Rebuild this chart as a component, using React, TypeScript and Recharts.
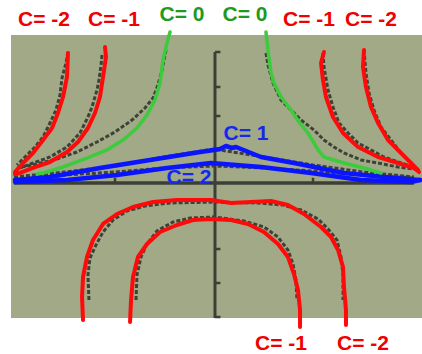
import React from 'react';
import {
  ComposedChart,
  Line,
  XAxis,
  YAxis,
  ReferenceArea,
  ReferenceLine,
  ReferenceDot,
} from 'recharts';

type Pt = { x: number; y: number };

// Plot window (graphing-calculator screen) and full chart domain, in math units
const X_DOMAIN: [number, number] = [-2.1616, 2.101];
const Y_DOMAIN: [number, number] = [-4.8857, 5.2286];
const SCREEN_X: [number, number] = [-2.0505, 2.101];
const SCREEN_Y: [number, number] = [-3.857, 4.229];

// Axis ticks on the calculator screen
const xTicks = [-1, 1];
const yTicks = [3.743, 2.743, 1.914, -1.886, -2.857, -3.829];

// Calculator plots of y = 1/(x^2 + C)
const calcLeftCm2: Pt[] = [
  { x: -1.475, y: 3.743 }, { x: -1.495, y: 3.429 }, { x: -1.535, y: 3.0 }, { x: -1.556, y: 2.514 },
  { x: -1.596, y: 2.086 }, { x: -1.657, y: 1.714 }, { x: -1.727, y: 1.314 }, { x: -1.808, y: 1.029 },
  { x: -1.909, y: 0.743 }, { x: -1.99, y: 0.514 },
];
const calcLeftCm1: Pt[] = [
  { x: -1.131, y: 3.657 }, { x: -1.141, y: 3.371 }, { x: -1.162, y: 2.943 }, { x: -1.182, y: 2.657 },
  { x: -1.232, y: 2.171 }, { x: -1.273, y: 1.886 }, { x: -1.354, y: 1.429 }, { x: -1.485, y: 1.029 },
  { x: -1.657, y: 0.743 }, { x: -1.828, y: 0.571 }, { x: -1.96, y: 0.429 },
];
const calcLeftC0: Pt[] = [
  { x: -0.485, y: 3.8 }, { x: -0.505, y: 3.514 }, { x: -0.525, y: 3.229 }, { x: -0.566, y: 2.8 },
  { x: -0.616, y: 2.429 }, { x: -0.697, y: 2.143 }, { x: -0.828, y: 1.8 }, { x: -1.0, y: 1.457 },
  { x: -1.182, y: 1.171 }, { x: -1.384, y: 0.886 }, { x: -1.586, y: 0.686 }, { x: -1.788, y: 0.543 },
  { x: -1.99, y: 0.429 },
];
const calcRightC0: Pt[] = [
  { x: 0.525, y: 3.714 }, { x: 0.545, y: 3.371 }, { x: 0.596, y: 2.857 }, { x: 0.677, y: 2.371 },
  { x: 0.778, y: 2.086 }, { x: 0.879, y: 1.8 }, { x: 1.01, y: 1.514 }, { x: 1.111, y: 1.229 },
  { x: 1.212, y: 1.029 }, { x: 1.313, y: 0.857 }, { x: 1.485, y: 0.657 }, { x: 1.657, y: 0.571 },
  { x: 1.859, y: 0.457 }, { x: 2.02, y: 0.4 },
];
const calcRightCm1: Pt[] = [
  { x: 1.101, y: 3.714 }, { x: 1.111, y: 3.314 }, { x: 1.152, y: 2.657 }, { x: 1.202, y: 2.171 },
  { x: 1.263, y: 1.714 }, { x: 1.354, y: 1.429 }, { x: 1.455, y: 1.143 }, { x: 1.586, y: 0.943 },
  { x: 1.717, y: 0.743 }, { x: 1.889, y: 0.571 }, { x: 2.02, y: 0.457 },
];
const calcRightCm2: Pt[] = [
  { x: 1.515, y: 3.8 }, { x: 1.535, y: 3.143 }, { x: 1.566, y: 2.571 }, { x: 1.616, y: 2.086 },
  { x: 1.687, y: 1.6 }, { x: 1.788, y: 1.229 }, { x: 1.889, y: 0.857 }, { x: 1.96, y: 0.657 },
  { x: 2.02, y: 0.457 },
];
const calcC1: Pt[] = [
  { x: -2.02, y: 0.171 }, { x: -1.505, y: 0.314 }, { x: -1.0, y: 0.486 }, { x: -0.505, y: 0.743 },
  { x: 0, y: 0.971 }, { x: 0.505, y: 0.743 }, { x: 1.0, y: 0.514 }, { x: 1.505, y: 0.314 },
  { x: 2.02, y: 0.171 },
];
const calcC2: Pt[] = [
  { x: -2.02, y: 0.143 }, { x: -1.0, y: 0.314 }, { x: -0.505, y: 0.429 }, { x: 0, y: 0.486 },
  { x: 0.505, y: 0.429 }, { x: 1.0, y: 0.343 }, { x: 1.505, y: 0.229 }, { x: 2.02, y: 0.143 },
];
const calcArchCm2: Pt[] = [
  { x: -1.263, y: -3.343 }, { x: -1.273, y: -2.629 }, { x: -1.253, y: -2.143 }, { x: -1.192, y: -1.771 },
  { x: -1.121, y: -1.4 }, { x: -1.02, y: -1.057 }, { x: -0.879, y: -0.8 }, { x: -0.697, y: -0.657 },
  { x: -0.444, y: -0.571 }, { x: 0, y: -0.543 }, { x: 0.444, y: -0.571 }, { x: 0.697, y: -0.629 },
  { x: 0.879, y: -0.771 }, { x: 1.051, y: -1.029 }, { x: 1.152, y: -1.314 }, { x: 1.242, y: -1.629 },
  { x: 1.283, y: -2.114 }, { x: 1.303, y: -2.629 }, { x: 1.303, y: -3.343 },
];
const calcArchCm1: Pt[] = [
  { x: -0.788, y: -3.343 }, { x: -0.778, y: -2.629 }, { x: -0.737, y: -2.114 }, { x: -0.677, y: -1.743 },
  { x: -0.576, y: -1.371 }, { x: -0.414, y: -1.114 }, { x: -0.242, y: -1.0 }, { x: 0, y: -0.971 },
  { x: 0.303, y: -1.086 }, { x: 0.505, y: -1.257 }, { x: 0.646, y: -1.543 }, { x: 0.747, y: -1.914 },
  { x: 0.798, y: -2.314 }, { x: 0.828, y: -2.771 }, { x: 0.838, y: -3.343 },
];

// Hand-traced solution curves
const redLeftCm2: Pt[] = [
  { x: -1.475, y: 3.714 }, { x: -1.485, y: 3.029 }, { x: -1.525, y: 2.457 }, { x: -1.576, y: 2.0 },
  { x: -1.636, y: 1.571 }, { x: -1.727, y: 1.229 }, { x: -1.828, y: 0.857 }, { x: -1.929, y: 0.571 },
  { x: -2.01, y: 0.314 },
];
const redLeftCm1: Pt[] = [
  { x: -1.101, y: 3.886 }, { x: -1.091, y: 3.6 }, { x: -1.121, y: 3.029 }, { x: -1.152, y: 2.457 },
  { x: -1.202, y: 2.0 }, { x: -1.273, y: 1.571 }, { x: -1.374, y: 1.171 }, { x: -1.485, y: 0.886 },
  { x: -1.657, y: 0.6 }, { x: -1.828, y: 0.429 }, { x: -1.96, y: 0.286 }, { x: -2.01, y: 0.257 },
];
const greenLeftC0: Pt[] = [
  { x: -0.444, y: 4.314 }, { x: -0.475, y: 4.0 }, { x: -0.515, y: 3.514 }, { x: -0.545, y: 2.857 },
  { x: -0.596, y: 2.371 }, { x: -0.677, y: 1.943 }, { x: -0.778, y: 1.571 }, { x: -0.919, y: 1.229 },
  { x: -1.081, y: 0.943 }, { x: -1.283, y: 0.714 }, { x: -1.525, y: 0.457 }, { x: -1.727, y: 0.286 },
  { x: -1.788, y: 0.257 },
];
const greenRightC0: Pt[] = [
  { x: 0.525, y: 4.314 }, { x: 0.545, y: 3.8 }, { x: 0.576, y: 3.143 }, { x: 0.606, y: 2.857 },
  { x: 0.677, y: 2.457 }, { x: 0.778, y: 2.086 }, { x: 0.859, y: 1.743 }, { x: 0.949, y: 1.429 },
  { x: 1.01, y: 1.143 }, { x: 1.051, y: 0.943 }, { x: 1.111, y: 0.743 }, { x: 1.313, y: 0.571 },
  { x: 1.515, y: 0.429 }, { x: 1.687, y: 0.286 },
];
const redRightCm1: Pt[] = [
  { x: 1.111, y: 3.743 }, { x: 1.081, y: 3.429 }, { x: 1.101, y: 2.943 }, { x: 1.131, y: 2.457 },
  { x: 1.202, y: 1.886 }, { x: 1.303, y: 1.429 }, { x: 1.455, y: 1.029 }, { x: 1.657, y: 0.743 },
  { x: 1.859, y: 0.571 }, { x: 2.02, y: 0.429 }, { x: 2.071, y: 0.314 },
];
const redRightCm2: Pt[] = [
  { x: 1.515, y: 3.8 }, { x: 1.505, y: 3.314 }, { x: 1.535, y: 2.743 }, { x: 1.586, y: 2.171 },
  { x: 1.657, y: 1.714 }, { x: 1.758, y: 1.229 }, { x: 1.889, y: 0.857 }, { x: 1.99, y: 0.571 },
  { x: 2.061, y: 0.371 },
];
const blueC1: Pt[] = [
  { x: -2.01, y: 0.086 }, { x: -1.657, y: 0.171 }, { x: -1.152, y: 0.429 }, { x: -0.646, y: 0.657 },
  { x: -0.141, y: 0.886 }, { x: 0, y: 0.943 }, { x: 0.061, y: 0.971 }, { x: 0.121, y: 1.057 },
  { x: 0.182, y: 1.0 }, { x: 0.222, y: 1.029 }, { x: 0.475, y: 0.743 }, { x: 0.808, y: 0.571 },
  { x: 1.313, y: 0.286 }, { x: 1.818, y: 0.143 }, { x: 2.081, y: 0.086 },
];
const blueC2: Pt[] = [
  { x: -2.01, y: 0.029 }, { x: -1.485, y: 0.086 }, { x: -0.98, y: 0.229 }, { x: -0.475, y: 0.429 },
  { x: -0.03, y: 0.571 }, { x: 0.475, y: 0.457 }, { x: 0.98, y: 0.286 }, { x: 1.485, y: 0.086 },
  { x: 1.99, y: 0.029 }, { x: 2.081, y: 0.086 },
];
const redArchCm2: Pt[] = [
  { x: -1.323, y: -3.914 }, { x: -1.333, y: -3.257 }, { x: -1.323, y: -2.686 }, { x: -1.283, y: -2.114 },
  { x: -1.222, y: -1.629 }, { x: -1.121, y: -1.171 }, { x: -0.98, y: -0.886 }, { x: -0.818, y: -0.686 },
  { x: -0.616, y: -0.543 }, { x: -0.374, y: -0.486 }, { x: -0.141, y: -0.486 }, { x: -0.03, y: -0.486 },
  { x: 0.172, y: -0.571 }, { x: 0.374, y: -0.543 }, { x: 0.576, y: -0.514 }, { x: 0.747, y: -0.629 },
  { x: 0.909, y: -0.886 }, { x: 1.081, y: -1.257 }, { x: 1.182, y: -1.543 }, { x: 1.253, y: -1.914 },
  { x: 1.303, y: -2.4 }, { x: 1.313, y: -2.971 }, { x: 1.333, y: -3.629 }, { x: 1.333, y: -4.057 },
];
const redArchCm1: Pt[] = [
  { x: -0.848, y: -3.971 }, { x: -0.838, y: -3.343 }, { x: -0.818, y: -2.686 }, { x: -0.768, y: -2.114 },
  { x: -0.677, y: -1.743 }, { x: -0.545, y: -1.4 }, { x: -0.374, y: -1.2 }, { x: -0.212, y: -1.057 },
  { x: -0.03, y: -1.029 }, { x: 0.172, y: -1.057 }, { x: 0.343, y: -1.171 }, { x: 0.505, y: -1.4 },
  { x: 0.646, y: -1.743 }, { x: 0.747, y: -2.114 }, { x: 0.808, y: -2.6 }, { x: 0.848, y: -3.057 },
  { x: 0.869, y: -3.629 }, { x: 0.869, y: -4.114 },
];

// Curve labels
const curveLabels = [
  { x: -1.717, y: 4.714, text: 'C= -2', color: '#f00000' },
  { x: -1.01, y: 4.714, text: 'C= -1', color: '#f00000' },
  { x: -0.323, y: 4.83, text: 'C= 0', color: '#1f9a1f' },
  { x: 0.313, y: 4.857, text: 'C= 0', color: '#1f9a1f' },
  { x: 0.96, y: 4.686, text: 'C= -1', color: '#f00000' },
  { x: 1.586, y: 4.686, text: 'C= -2', color: '#f00000' },
  { x: 0.323, y: 1.429, text: 'C= 1', color: '#1428f0' },
  { x: -0.253, y: 0.2, text: 'C= 2', color: '#1428f0' },
  { x: 0.677, y: -4.571, text: 'C= -1', color: '#f00000' },
  { x: 1.505, y: -4.543, text: 'C= -2', color: '#f00000' },
];

const SCREEN_FILL = '#a1a987';
const AXIS_COLOR = '#3b3f35';
const CALC_COLOR = '#3d4236';
const RED = '#ff0a0a';
const GREEN = '#3ccb3c';
const BLUE = '#0a14ff';

const calcCurves = [
  calcLeftCm2, calcLeftCm1, calcLeftC0, calcRightC0, calcRightCm1, calcRightCm2,
  calcC1, calcC2, calcArchCm2, calcArchCm1,
];
const tracedCurves: { data: Pt[]; color: string; width: number }[] = [
  { data: blueC2, color: BLUE, width: 4.5 },
  { data: blueC1, color: BLUE, width: 4.5 },
  { data: redLeftCm2, color: RED, width: 4 },
  { data: redLeftCm1, color: RED, width: 4 },
  { data: greenLeftC0, color: GREEN, width: 3.5 },
  { data: greenRightC0, color: GREEN, width: 3.5 },
  { data: redRightCm1, color: RED, width: 4 },
  { data: redRightCm2, color: RED, width: 4 },
  { data: redArchCm2, color: RED, width: 4 },
  { data: redArchCm1, color: RED, width: 4 },
];

export default function App() {
  return (
    <div style={{ position: 'absolute', left: 0, top: 0, width: 422, height: 354, background: '#ffffff' }}>
      <ComposedChart width={422} height={354} margin={{ top: 0, right: 0, bottom: 0, left: 0 }}>
        <XAxis type="number" dataKey="x" domain={X_DOMAIN} allowDataOverflow hide />
        <YAxis type="number" dataKey="y" domain={Y_DOMAIN} allowDataOverflow hide />
        <ReferenceArea
          x1={SCREEN_X[0]}
          x2={SCREEN_X[1]}
          y1={SCREEN_Y[0]}
          y2={SCREEN_Y[1]}
          fill={SCREEN_FILL}
          fillOpacity={1}
          stroke="none"
        />
        <ReferenceLine
          segment={[{ x: -2.02, y: 0 }, { x: 2.02, y: 0 }]}
          stroke={AXIS_COLOR}
          strokeWidth={3.5}
        />
        <ReferenceLine
          segment={[{ x: 0.01, y: 3.743 }, { x: 0.01, y: SCREEN_Y[0] }]}
          stroke={AXIS_COLOR}
          strokeWidth={3}
        />
        {yTicks.map((t) => (
          <ReferenceLine
            key={`yt${t}`}
            segment={[{ x: 0.01, y: t }, { x: 0.065, y: t }]}
            stroke={AXIS_COLOR}
            strokeWidth={2.5}
          />
        ))}
        {xTicks.map((t) => (
          <ReferenceLine
            key={`xt${t}`}
            segment={[{ x: t, y: 0 }, { x: t, y: 0.15 }]}
            stroke={AXIS_COLOR}
            strokeWidth={2.5}
          />
        ))}
        {calcCurves.map((d, i) => (
          <Line
            key={`calc${i}`}
            data={d}
            dataKey="y"
            type="linear"
            stroke={CALC_COLOR}
            strokeWidth={3}
            strokeDasharray="4 2"
            dot={false}
            activeDot={false}
            isAnimationActive={false}
          />
        ))}
        {tracedCurves.map((c, i) => (
          <Line
            key={`tr${i}`}
            data={c.data}
            dataKey="y"
            type="linear"
            stroke={c.color}
            strokeWidth={c.width}
            strokeLinejoin="round"
            strokeLinecap="round"
            dot={false}
            activeDot={false}
            isAnimationActive={false}
          />
        ))}
        {curveLabels.map((l, i) => (
          <ReferenceDot
            key={`lb${i}`}
            x={l.x}
            y={l.y}
            r={0}
            shape={(p: any) => (
              <text
                x={p.cx}
                y={p.cy}
                textAnchor="middle"
                dominantBaseline="central"
                fill={l.color}
                fontFamily="'Liberation Sans', Arial, sans-serif"
                fontWeight={700}
                fontSize={21}
              >
                {l.text}
              </text>
            )}
          />
        ))}
      </ComposedChart>
    </div>
  );
}
